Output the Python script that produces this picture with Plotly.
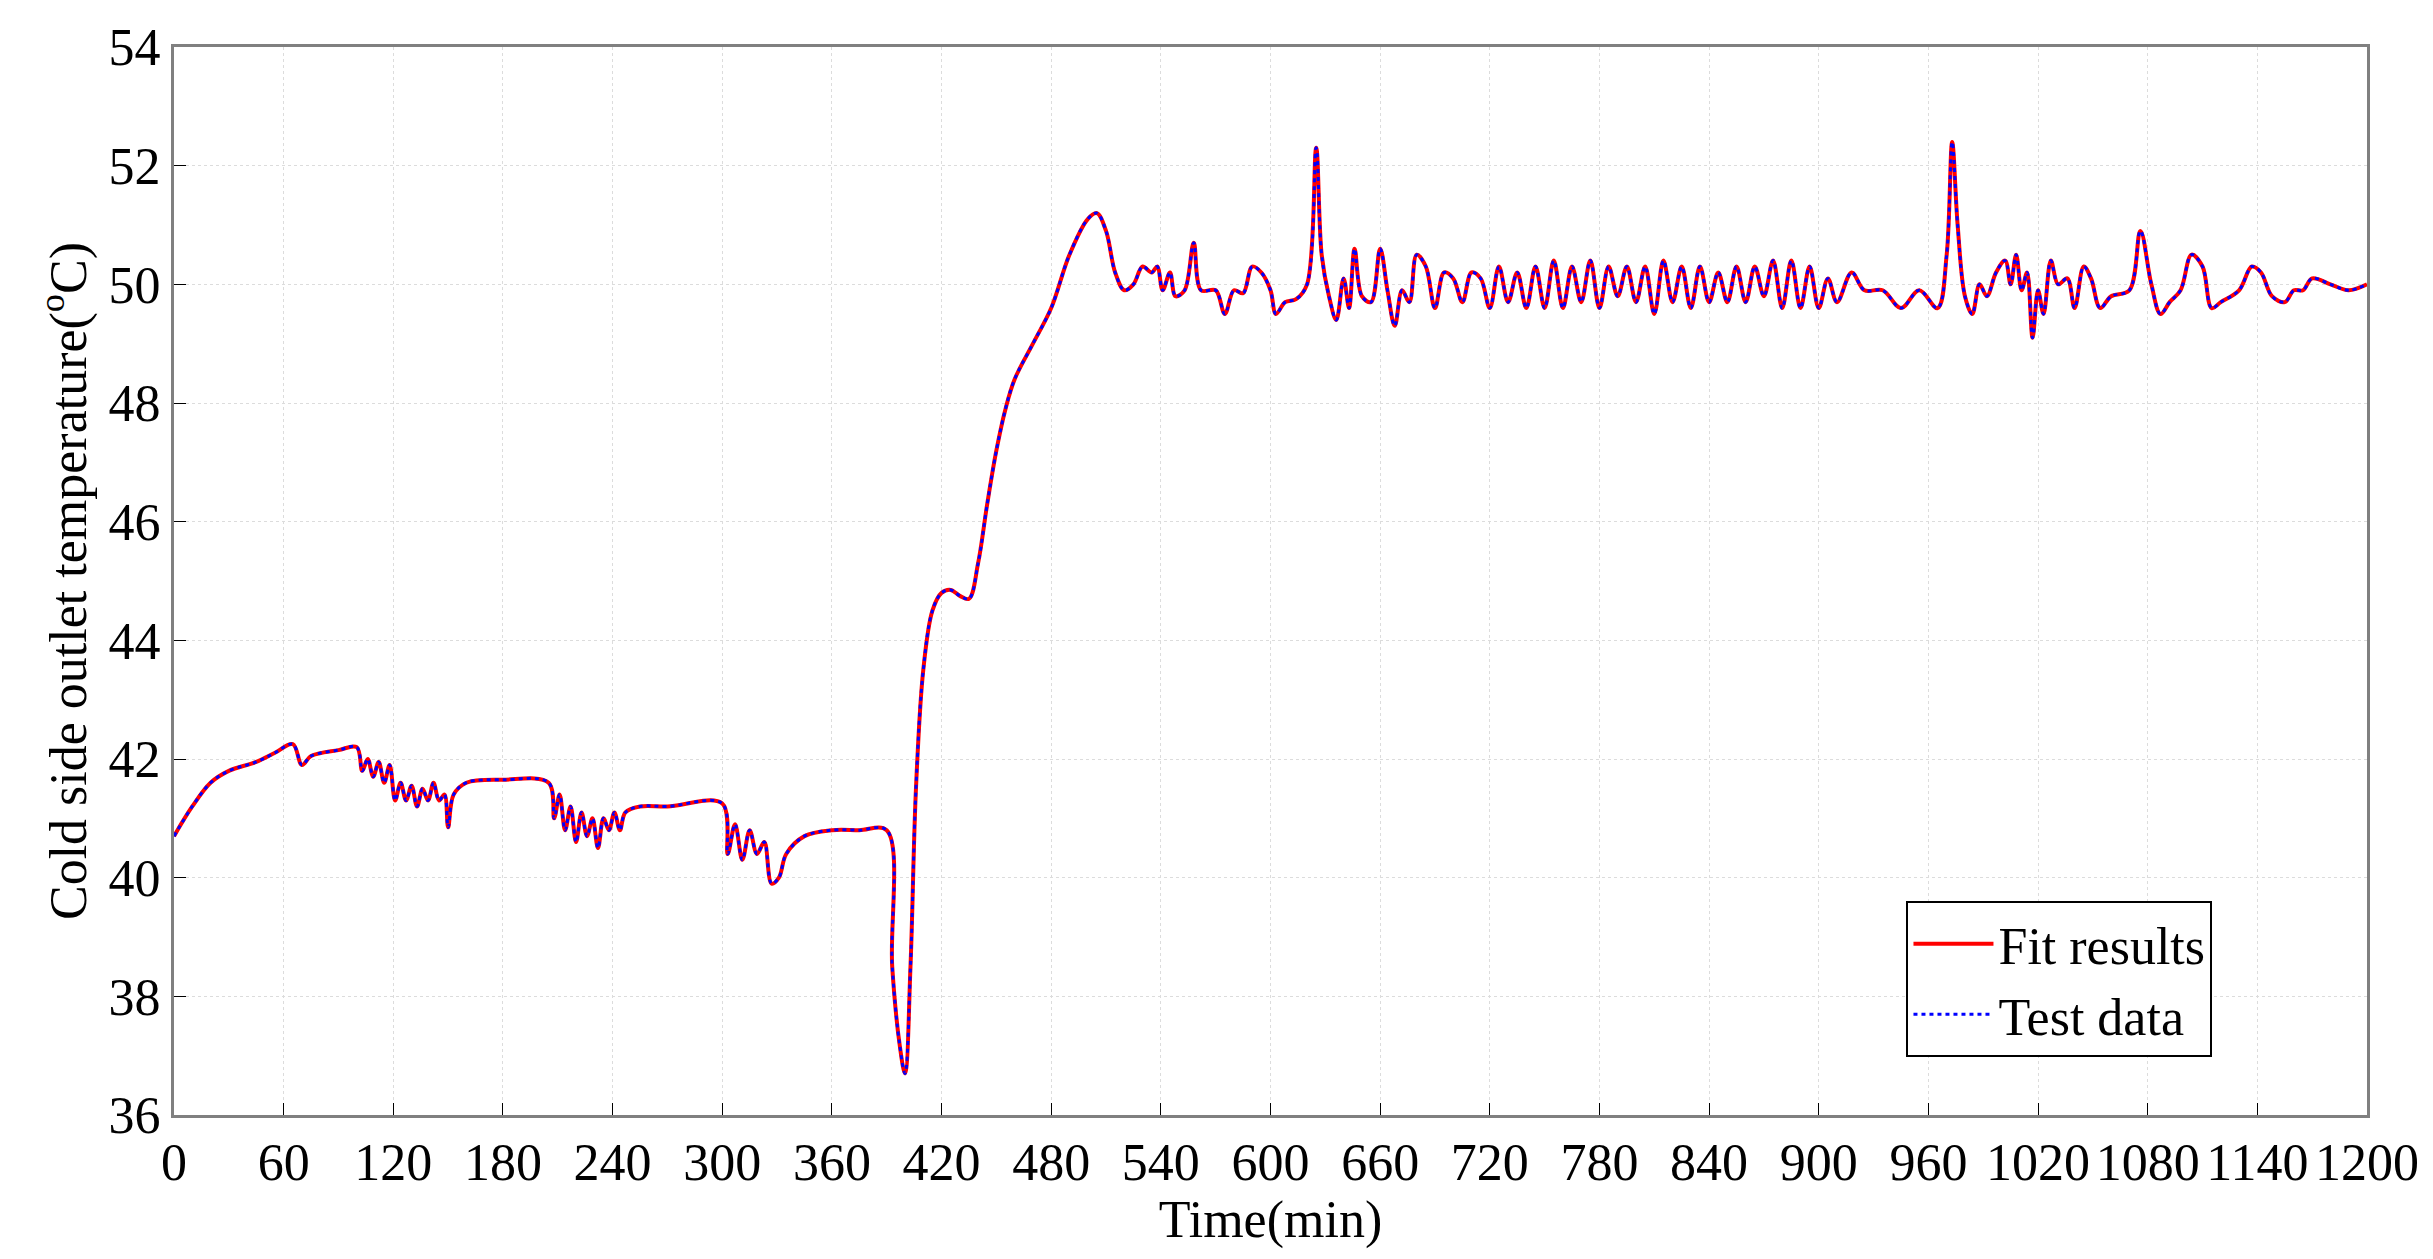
import plotly.graph_objects as go

time = [0,10,20,30,45,55,65,70,75,90,100,103,106,109,112,115,118,121,124,127,130,133,136,139,142,145,148,150,153,160,180,205,208,211,214,217,220,223,226,229,232,235,238,241,244,247,255,270,300,303,307,311,315,319,323,327,331,335,345,360,375,390,393,397,400,403,406,410,415,420,425,430,435,440,445,450,455,460,470,480,490,500,505,510,515,520,525,530,535,538,541,545,548,553,558,562,570,575,580,585,590,595,600,603,608,614,620,625,628,632,636,640,643,646,650,655,660,664,668,672,676,680,685,690,695,700,705,710,715,720,725,730,735,740,745,750,755,760,765,770,775,780,785,790,795,800,805,810,815,820,825,830,835,840,845,850,855,860,865,870,875,880,885,890,895,900,905,910,918,925,935,945,955,965,970,973,976,980,984,988,992,997,1002,1005,1008,1011,1014,1017,1020,1023,1027,1031,1036,1040,1045,1049,1054,1060,1070,1076,1082,1087,1092,1098,1104,1110,1115,1120,1130,1137,1142,1148,1155,1160,1165,1170,1180,1190,1200]
temp = [40.7,41.2,41.6,41.8,41.95,42.1,42.25,41.9,42.05,42.15,42.2,41.8,42.0,41.7,41.95,41.6,41.9,41.3,41.6,41.3,41.55,41.2,41.5,41.3,41.6,41.3,41.4,40.85,41.4,41.6,41.65,41.6,41.0,41.4,40.8,41.2,40.6,41.1,40.7,41.0,40.5,41.0,40.8,41.1,40.8,41.1,41.2,41.2,41.25,40.4,40.9,40.3,40.8,40.4,40.6,39.9,40.0,40.4,40.7,40.8,40.8,40.8,38.5,37.2,36.7,38.5,41.5,43.5,44.5,44.8,44.85,44.75,44.7,45.3,46.3,47.2,47.9,48.4,49.0,49.6,50.5,51.1,51.2,50.9,50.2,49.9,50.0,50.3,50.2,50.3,49.9,50.2,49.8,49.9,50.7,49.9,49.9,49.5,49.9,49.85,50.3,50.2,49.9,49.5,49.7,49.75,50.0,52.3,50.5,49.8,49.4,50.1,49.6,50.6,49.8,49.7,50.6,49.9,49.3,49.9,49.7,50.5,50.3,49.6,50.2,50.1,49.7,50.2,50.1,49.6,50.3,49.7,50.2,49.6,50.3,49.6,50.4,49.6,50.3,49.7,50.4,49.6,50.3,49.8,50.3,49.7,50.3,49.5,50.4,49.7,50.3,49.6,50.3,49.7,50.2,49.7,50.3,49.7,50.3,49.8,50.4,49.6,50.4,49.6,50.3,49.6,50.1,49.7,50.2,49.9,49.9,49.6,49.9,49.6,50.5,52.4,51.0,49.8,49.5,50.0,49.8,50.2,50.4,50.0,50.5,49.9,50.2,49.1,49.9,49.5,50.4,50.0,50.1,49.6,50.3,50.1,49.6,49.8,49.9,50.9,50.0,49.5,49.7,49.9,50.5,50.3,49.6,49.7,49.9,50.3,50.2,49.8,49.7,49.9,49.9,50.1,50.0,49.9,50.0]
fit = temp

x_ticks = list(range(0, 1201, 60))
y_ticks = list(range(36, 55, 2))

F = "Liberation Serif"
fig = go.Figure()
fig.add_trace(go.Scatter(x=time, y=fit, mode="lines", name="Fit results",
                         line=dict(color="red", width=4, shape="spline")))
fig.add_trace(go.Scatter(x=time, y=temp, mode="lines", name="Test data",
                         line=dict(color="blue", width=3, dash="4px,4px", shape="spline")))
ax = dict(showline=True, linecolor="#808080", linewidth=3, mirror=True,
          ticks="inside", ticklen=12, tickcolor="black", showgrid=True,
          gridcolor="#dcdcdc", griddash="dot", zeroline=False,
          tickfont=dict(family=F, size=52, color="black"))
fig.update_xaxes(range=[0, 1200], tickvals=x_ticks,
                 title=dict(text="Time(min)", font=dict(family=F, size=52, color="black"), standoff=0), **ax)
fig.update_yaxes(range=[36, 54], tickvals=y_ticks,
                 title=dict(text="Cold side outlet temperature(<sup>o</sup>C)", font=dict(family=F, size=52, color="black"), standoff=6), **ax)
fig.update_layout(width=2433, height=1259, margin=dict(l=166, r=74, t=39, b=152),
                  plot_bgcolor="white", paper_bgcolor="white",
                  legend=dict(x=0.79, y=0.2, xanchor="left", yanchor="top",
                              bordercolor="black", borderwidth=2, bgcolor="white",
                              itemwidth=80,
                              font=dict(family=F, size=52, color="black")))
fig.write_html("out.html")
